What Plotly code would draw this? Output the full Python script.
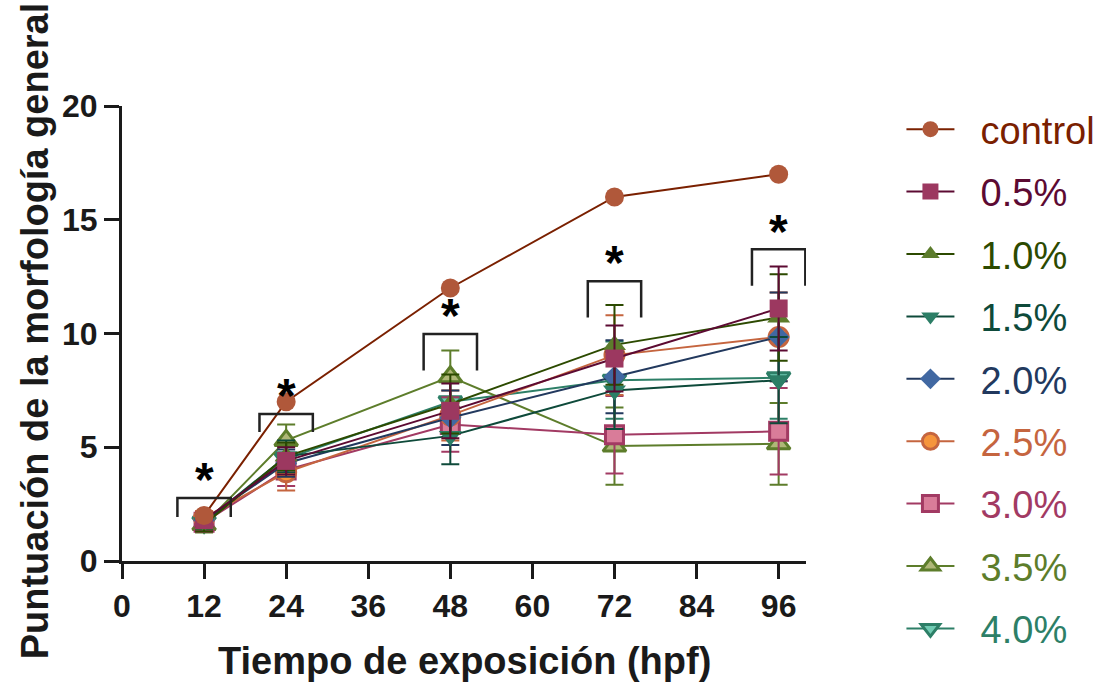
import plotly.graph_objects as go

# Exposure times (hours post fertilization)
hours = [12, 24, 48, 72, 96]

# Mean general morphology scores per group
control = [2.0, 7.0, 12.0, 16.0, 17.0]
p05 = [1.8, 4.4, 6.6, 8.9, 11.1]
p10 = [1.6, 4.6, 6.9, 9.5, 10.7]
p15 = [1.7, 4.6, 5.5, 7.5, 7.95]
p20 = [1.8, 4.3, 6.3, 8.1, 9.85]
p25 = [1.9, 3.9, 6.4, 9.05, 9.85]
p30 = [1.7, 4.0, 6.0, 5.55, 5.7]
p35 = [1.6, 5.3, 8.1, 5.05, 5.15]
p40 = [1.7, 4.5, 7.0, 7.95, 8.05]

# Standard deviations
err_control = [0, 0, 0, 0, 0]
err_p05 = [0.3, 0.6, 1.2, 1.45, 1.85]
err_p10 = [0.3, 0.6, 1.3, 1.75, 1.9]
err_p15 = [0.3, 0.7, 1.25, 1.7, 1.9]
err_p20 = [0.3, 0.6, 1.2, 1.6, 1.95]
err_p25 = [0.3, 0.8, 1.1, 1.75, 1.95]
err_p30 = [0.3, 0.7, 1.2, 1.7, 1.9]
err_p35 = [0.35, 0.7, 1.15, 1.7, 1.8]
err_p40 = [0.3, 0.7, 1.1, 1.7, 1.8]

labels = ["control", "0.5%", "1.0%", "1.5%", "2.0%", "2.5%", "3.0%", "3.5%", "4.0%"]

# Significance brackets (top level and leg bottom) at each time point
sig_top = [2.77, 6.46, 9.98, 12.3, 13.7]
sig_bottom = [1.93, 5.67, 8.37, 10.7, 12.1]
sig_half_width = 3.9

series = [
    # label, values, errors, line colour, marker fill, marker border, symbol
    (labels[0], control, err_control, "#7A2000", "#B0583A", "#B0583A", "circle"),
    (labels[1], p05, err_p05, "#5C0A32", "#9C3860", "#9C3860", "square"),
    (labels[2], p10, err_p10, "#2C4A00", "#5C7C2C", "#5C7C2C", "triangle-up"),
    (labels[3], p15, err_p15, "#0E4A3A", "#2C7E66", "#2C7E66", "triangle-down"),
    (labels[4], p20, err_p20, "#22395E", "#4168A2", "#4168A2", "diamond"),
    (labels[5], p25, err_p25, "#C5653F", "#F6953C", "#C5653F", "circle"),
    (labels[6], p30, err_p30, "#A23A63", "#D97C99", "#A23A63", "square"),
    (labels[7], p35, err_p35, "#5D7D2B", "#AFB777", "#5D7D2B", "triangle-up"),
    (labels[8], p40, err_p40, "#2D7F67", "#70CBB3", "#2D7F67", "triangle-down"),
]

sizes = {"circle": 19, "square": 18, "triangle-up": 20, "triangle-down": 20, "diamond": 17}

fig = go.Figure()

# Add in reverse so the control series is drawn on top; legendrank keeps legend order
for rank, (name, vals, errs, lc, fill, border, sym) in reversed(list(enumerate(series))):
    has_border = fill != border
    fig.add_trace(go.Scatter(
        x=hours, y=vals,
        mode="lines+markers",
        name=f'&nbsp;&nbsp;<span style="color:{lc}">{name}</span>',
        legendgroup=name,
        legendrank=rank + 1,
        line=dict(color=lc, width=2),
        marker=dict(symbol=sym, size=sizes[sym], color=fill,
                    line=dict(color=border, width=3 if has_border else 0)),
        error_y=dict(type="data", array=errs, visible=any(e > 0 for e in errs),
                     color=lc, thickness=2, width=9),
        cliponaxis=False,
    ))

# Significance brackets with asterisks
for h, top, bot in zip(hours, sig_top, sig_bottom):
    x0, x1 = h - sig_half_width, h + sig_half_width
    fig.add_trace(go.Scatter(
        x=[x0, x0, x1, x1], y=[bot, top, top, bot],
        mode="lines", line=dict(color="#222222", width=2.5),
        showlegend=False, hoverinfo="skip", cliponaxis=False,
    ))
    fig.add_annotation(x=h, y=top + 0.8, text="<b>*</b>", showarrow=False,
                       font=dict(size=48, color="#000000", family="Liberation Sans, Arial"),
                       yanchor="middle", xanchor="center")

tick_font = dict(family="Liberation Sans, Arial", size=32, color="#1a1a1a", weight="bold")
title_font = dict(family="Liberation Sans, Arial", size=38, color="#1a1a1a", weight="bold")

# Axis titles
fig.add_annotation(text="Tiempo de exposición (hpf)", xref="paper", yref="paper",
                   x=0.5, y=-0.22, xanchor="center", yanchor="middle",
                   showarrow=False, font=title_font)
fig.add_annotation(text="Puntuación de la morfología general", xref="paper", yref="paper",
                   x=-0.127, y=0.505, xanchor="center", yanchor="middle", textangle=-90,
                   showarrow=False, font=title_font)

fig.update_layout(
    width=1102, height=682,
    margin=dict(l=122, r=296, t=106, b=121),
    plot_bgcolor="white", paper_bgcolor="white",
    showlegend=True,
    legend=dict(
        traceorder="grouped",
        xref="container", yref="container",
        x=0.818, y=1 - 98 / 682, xanchor="left", yanchor="top",
        font=dict(family="Liberation Sans, Arial", size=38),
        itemwidth=48, tracegroupgap=10, maxheight=1.0,
        bgcolor="rgba(0,0,0,0)",
    ),
    xaxis=dict(
        range=[0, 100], tickvals=[0, 12, 24, 36, 48, 60, 72, 84, 96],
        showline=True, linecolor="#1a1a1a", linewidth=3,
        ticks="outside", ticklen=15, tickwidth=3, tickcolor="#1a1a1a",
        tickfont=tick_font, automargin=False,
        showgrid=False, zeroline=False,
    ),
    yaxis=dict(
        range=[0, 20], tickvals=[0, 5, 10, 15, 20],
        showline=True, linecolor="#1a1a1a", linewidth=3,
        ticks="outside", ticklen=15, tickwidth=3, tickcolor="#1a1a1a",
        tickfont=tick_font, automargin=False,
        showgrid=False, zeroline=False,
    ),
)

fig.write_html("out.html")
